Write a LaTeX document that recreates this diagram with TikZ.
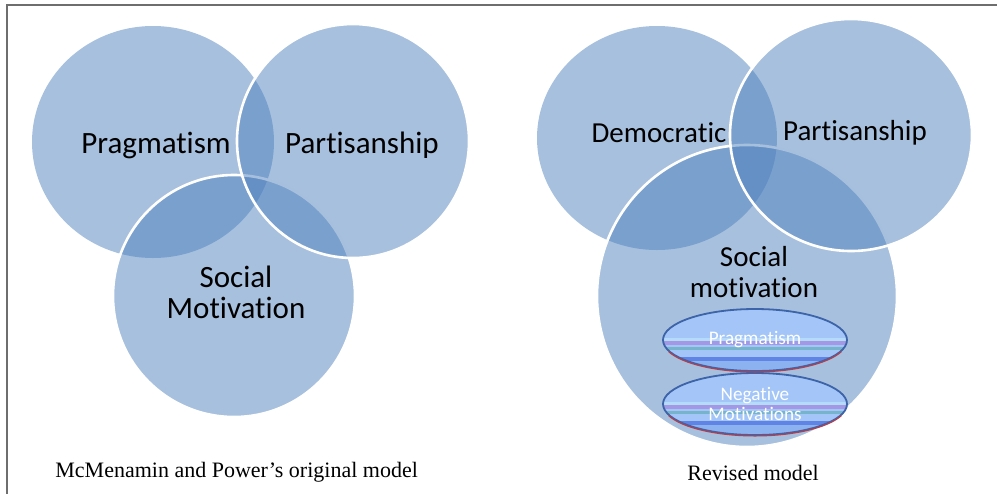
\documentclass[tikz,border=0pt]{standalone}
\usepackage{fontspec}
\setmainfont{Liberation Serif}
\newfontfamily\calibri[Ligatures=NoCommon]{Carlito}
\usepackage{tikz}
\usetikzlibrary{shapes}
\usetikzlibrary{positioning}
\usetikzlibrary{backgrounds}

\definecolor{vennblue}{HTML}{4F81BD}
\definecolor{framegray}{HTML}{6E6E6E}
\definecolor{ovallight}{HTML}{A3C5F7}
\definecolor{ovalcyan}{HTML}{B4DCF8}
\definecolor{ovalviolet}{HTML}{A497E6}
\definecolor{ovalteal}{HTML}{76B4CC}
\definecolor{ovalblue}{HTML}{5F84E6}
\definecolor{ovallow}{HTML}{8DB2F0}
\definecolor{ovaledge}{HTML}{3D63A8}
\definecolor{ovalrim}{HTML}{B0404F}

\tikzset{
    venn/.style={ellipse,fill=vennblue,fill opacity=0.5,inner sep=0pt},
    rim/.style={draw=white,line width=1.3pt},
    oval/.style={ellipse,draw=ovaledge,line width=0.9pt,fill=ovallight,
        minimum width=92pt,minimum height=31pt,inner sep=0pt,
        text=white,align=center,font=\calibri\fontsize{9.6}{10}\selectfont,
        path picture={
            \fill[ovalcyan] ([yshift=1pt]path picture bounding box.west) rectangle ([yshift=-0.5pt]path picture bounding box.east);
            \fill[ovalviolet] ([yshift=-0.5pt]path picture bounding box.west) rectangle ([yshift=-2.5pt]path picture bounding box.east);
            \fill[ovalteal] ([yshift=-3.5pt]path picture bounding box.west) rectangle ([yshift=-5pt]path picture bounding box.east);
            \fill[ovalblue] ([yshift=-8.5pt]path picture bounding box.west) rectangle ([yshift=-10.5pt]path picture bounding box.east);
            \fill[ovallow] ([yshift=-10.5pt]path picture bounding box.west) rectangle (path picture bounding box.south east);
        }}
}

\begin{document}
\begin{tikzpicture}[x=0.5pt,y=-0.5pt]
        \useasboundingbox (0,0) rectangle (997,494);
        \draw[framegray,line width=1.3pt] (997,5) -- (7,5) -- (7,494);

        % original model
        \begin{scope}[every node/.style={venn}]
            \node[minimum width=121pt,minimum height=116pt] (prag) at (153,142) {};
            \node[rim,minimum width=121pt,minimum height=121pt] (soc) at (234,296) {};
            \node[rim,minimum width=116pt,minimum height=117pt] (part) at (353,141) {};
        \end{scope}

        % revised model
        \begin{scope}[every node/.style={venn}]
            \node[minimum width=120pt,minimum height=112pt] (dem) at (657,138) {};
            \node[rim,minimum width=150pt,minimum height=151pt] (soc2) at (747,296) {};
            \node[rim,minimum width=121pt,minimum height=116pt] (part2) at (851,135) {};
        \end{scope}

        \node[oval] (prag2) at (755,340) {Pragmatism};
        \node[oval] (neg) at (755,404) {Negative\\Motivations};
        \draw[ovalrim,line width=0.6pt] (prag2.south) arc[start angle=270,end angle=340,x radius=46pt,y radius=15.5pt]
            (prag2.south) arc[start angle=270,end angle=200,x radius=46pt,y radius=15.5pt];
        \draw[ovalrim,line width=0.6pt] (neg.south) arc[start angle=270,end angle=340,x radius=46pt,y radius=15.5pt]
            (neg.south) arc[start angle=270,end angle=200,x radius=46pt,y radius=15.5pt];

        % labels
        \begin{scope}[every node/.style={font=\calibri\fontsize{15.5}{15.5}\selectfont,align=center}]
            \node[anchor=base] (l1) at (156,153) {Pragmatism};
            \node[anchor=base] (l2) at (362,153) {Partisanship};
            \node (l3) at (236,292) {Social\\Motivation};
        \end{scope}
        \begin{scope}[every node/.style={font=\calibri\fontsize{14.5}{15.5}\selectfont,align=center}]
            \node[anchor=base] (r1) at (659,142) {Democratic};
            \node[anchor=base] (r2) at (855,140) {Partisanship};
            \node (r3) at (754,272) {Social\\motivation};
        \end{scope}

        \node[anchor=base west,inner sep=0pt,font=\fontsize{11}{13}\selectfont] (cap1) at (55,477) {McMenamin and Power’s original model};
        \node[anchor=base west,inner sep=0pt,font=\fontsize{11}{13}\selectfont] (cap2) at (687,480) {Revised model};
\end{tikzpicture}
\end{document}
